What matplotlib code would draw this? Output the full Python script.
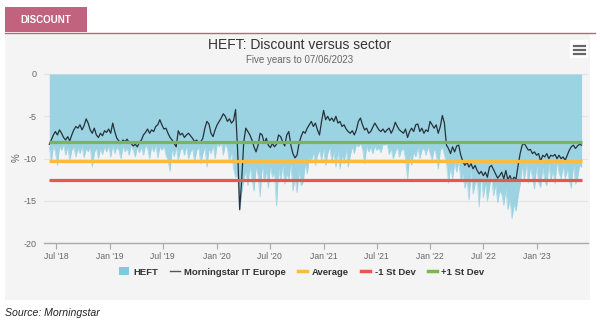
import matplotlib
matplotlib.use('Agg')
import matplotlib.pyplot as plt
from matplotlib.patches import Rectangle, Patch
from matplotlib.lines import Line2D
import pandas as pd

# ---------------- data ----------------
start_date = '2018-06-08'
n_weeks = 261

sector = [
    -8.3, -7.8, -7.2, -6.8, -7.2, -6.6, -7.0, -7.5, -7.8, -7.4,
    -7.9, -7.2, -6.6, -6.2, -6.4, -6.0, -6.6, -6.1, -5.3, -5.8,
    -6.6, -7.0, -6.4, -7.2, -7.5, -7.0, -7.3, -6.7, -6.9, -6.5,
    -7.0, -5.8, -6.8, -7.6, -7.9, -8.2, -7.8, -8.0, -7.7, -8.1,
    -8.2, -8.5, -8.3, -8.6, -8.1, -7.8, -7.2, -6.9, -6.5, -7.0,
    -6.6, -6.8, -6.2, -6.0, -5.4, -6.0, -6.5, -6.4, -7.0, -7.5,
    -7.8, -8.2, -8.6, -6.7, -7.2, -7.0, -7.5, -7.2, -7.0, -7.3,
    -7.6, -8.0, -7.8, -8.2, -8.0, -7.6, -6.4, -5.6, -5.9, -7.0,
    -7.4, -6.6, -6.0, -5.6, -5.2, -4.7, -5.0, -5.6, -5.3, -5.8,
    -5.5, -4.2, -9.0, -16.0, -12.5, -8.0, -6.4, -6.8, -7.2, -7.8,
    -8.6, -9.2, -8.4, -7.0, -7.2, -8.2, -7.6, -8.4, -8.7, -8.2,
    -8.6, -8.3, -7.2, -7.4, -8.0, -8.5, -7.2, -6.8, -8.4, -9.4,
    -9.9, -9.6, -8.2, -7.4, -6.8, -7.0, -6.4, -6.0, -5.6, -6.2,
    -5.8, -6.6, -7.2, -5.6, -4.3, -5.4, -5.0, -5.5, -5.2, -5.6,
    -5.0, -5.8, -5.6, -6.2, -6.0, -6.5, -6.8, -7.0, -6.7, -7.2,
    -6.6, -5.6, -5.2, -6.0, -6.6, -6.4, -7.0, -6.8, -6.3, -5.8,
    -6.2, -6.6, -6.8, -6.5, -6.9, -6.6, -6.4, -7.0, -6.5, -5.7,
    -6.2, -6.6, -6.8, -7.0, -6.5, -7.5, -6.8, -6.4, -6.8, -6.0,
    -5.9, -6.8, -6.4, -7.0, -6.6, -6.8, -5.6, -6.0, -6.4, -6.0,
    -7.0, -6.2, -4.9, -5.8, -8.4, -8.8, -9.4, -8.6, -9.2, -8.5,
    -8.4, -9.6, -10.3, -10.8, -10.4, -11.0, -10.6, -11.2, -10.8, -11.4,
    -11.8, -11.5, -12.0, -11.6, -12.2, -11.0, -10.8, -11.3, -11.8, -12.3,
    -12.0, -11.6, -12.4, -11.4, -12.5, -12.0, -12.6, -12.2, -12.4, -10.8,
    -9.4, -8.4, -8.2, -8.6, -9.0, -8.9, -9.4, -9.2, -9.6, -9.4,
    -10.3, -9.6, -9.8, -9.4, -10.0, -9.6, -9.7, -9.5, -10.0, -9.6,
    -10.0, -9.8, -10.2, -9.6, -9.0, -8.6, -8.4, -8.8, -8.5, -8.3,
    -8.4,
]

heft = [
    -8.6, -10.4, -8.4, -9.2, -10.8, -8.5, -9.0, -8.3, -9.6, -8.6, -10.2,
    -9.0, -8.6, -9.8, -8.7, -9.4, -8.5, -9.9, -8.8, -9.2, -8.6,
    -11.0, -9.3, -8.7, -10.0, -8.8, -9.5, -8.6, -9.2, -8.5, -9.8,
    -8.4, -9.4, -8.6, -9.0, -10.0, -8.5, -9.2, -8.7, -9.6, -8.4, -9.0, -9.8, -8.6, -9.3,
    -8.6, -9.6, -8.4, -8.8, -10.0, -8.5, -9.2, -8.4, -9.9, -8.6, -9.0, -8.5, -9.6, -10.2, -11.5,
    -8.8, -9.8, -8.6, -10.2, -9.0, -8.7, -9.6, -8.5, -10.0, -9.2,
    -8.8, -10.4, -9.0, -8.7, -10.6, -9.4, -8.6, -11.0, -8.8,
    -9.4, -8.3, -10.0, -8.2, -8.6, -8.0, -9.6, -8.2, -8.8, -10.4, -9.2, -11.2, -12.2,
    -12.0, -16.2, -14.0, -12.5,
    -11.5, -13.2, -10.8, -12.4, -13.8, -11.0, -12.0, -14.5, -10.6, -12.8,
    -11.4, -13.5, -10.9, -12.2, -11.6, -15.6, -11.2, -12.6, -10.8, -13.0,
    -11.8, -12.4, -10.6, -13.8, -12.2, -14.0, -11.5, -13.2,
    -12.8, -10.6, -11.8, -9.8, -10.4, -9.2, -10.8, -9.6,
    -9.0, -10.2, -8.8, -10.8, -9.4, -8.6, -10.4, -9.2, -11.0, -9.0, -11.2, -9.6, -10.6, -8.8, -11.0,
    -9.6, -8.6, -9.4, -8.3, -8.6, -8.2, -8.8, -10.6, -8.5,
    -9.2, -8.6, -9.4, -8.5, -9.0, -8.7, -9.3, -8.3, -8.4, -8.2,
    -9.5, -8.8, -10.0, -9.2, -8.6, -9.8, -9.0, -8.8, -10.0, -12.4, -9.6,
    -10.8, -9.2, -9.8, -8.6, -10.0, -9.0, -8.7, -9.6, -8.5, -9.4, -10.2, -8.8, -9.5, -11.2,
    -9.0, -8.6, -9.6,
    -10.5, -12.9, -11.0, -12.4, -10.4, -11.6, -10.2, -12.7,
    -11.8, -13.5, -12.4, -14.9, -11.4, -14.2, -13.0,
    -12.5, -15.7, -11.6, -14.6,
    -12.8, -15.0, -13.4, -11.8, -14.4, -13.0, -15.2, -13.8,
    -14.2, -15.5, -13.6, -16.0, -14.8, -17.1, -15.4, -16.2, -14.4, -13.0,
    -10.8, -12.6, -10.6, -12.9, -11.0, -12.2, -13.6, -10.8, -12.8, -13.4,
    -11.0, -12.6, -13.2, -10.6, -12.6, -11.4, -13.0, -10.4, -11.7, -12.4,
    -10.8, -12.4, -11.2, -12.6, -13.5, -10.6, -13.0, -12.4, -10.8, -11.0,
]

average = -10.25
minus_1sd = -12.47
plus_1sd = -8.0

tick_dates = ['2018-07-01', '2019-01-01', '2019-07-01', '2020-01-01', '2020-07-01',
              '2021-01-01', '2021-07-01', '2022-01-01', '2022-07-01', '2023-01-01']
tick_labels = ["Jul '18", "Jan '19", "Jul '19", "Jan '20", "Jul '20",
               "Jan '21", "Jul '21", "Jan '22", "Jul '22", "Jan '23"]
y_ticks = [0, -5, -10, -15, -20]

legend_labels = ['HEFT', 'Morningstar IT Europe', 'Average', '-1 St Dev', '+1 St Dev']

# ---------------- style ----------------
NARROW = ['Liberation Sans Narrow', 'Liberation Sans', 'DejaVu Sans']
SANS = ['Liberation Sans', 'DejaVu Sans']
PINK = '#c1637e'
PANEL = '#f4f4f4'
BLUE = '#9cd3e3'
LINE = '#263238'
ORANGE = '#f8bd3c'
RED = '#e5584b'
GREEN = '#7ab752'

W, H = 600, 325
def fx(px):
    return px / W
def fy(py):
    return 1 - py / H

fig = plt.figure(figsize=(6, 3.25), dpi=100)
fig.patch.set_facecolor('white')

# panel background
fig.patches.append(Rectangle((fx(5), fy(300)), fx(590) - fx(5), fy(33) - fy(300),
                             transform=fig.transFigure, facecolor=PANEL, edgecolor='none', zorder=-2))
# tab
fig.patches.append(Rectangle((fx(5), fy(32)), fx(87) - fx(5), fy(7) - fy(32),
                             transform=fig.transFigure, facecolor=PINK, edgecolor='none', zorder=-1))
fig.add_artist(Line2D([fx(5), fx(595)], [fy(32.5), fy(32.5)], transform=fig.transFigure,
                      color=PINK, lw=1.0))
fig.text(fx(46), fy(20), 'DISCOUNT', color='white', fontsize=7.0, fontweight='bold',
         family=NARROW, ha='center', va='center')

# titles
fig.text(fx(300), fy(45), 'HEFT: Discount versus sector', fontsize=10, color='#333333',
         family=SANS, ha='center', va='center')
fig.text(fx(300), fy(60), 'Five years to 07/06/2023', fontsize=7, color='#666666',
         family=SANS, ha='center', va='center')

# hamburger menu
fig.patches.append(Rectangle((fx(570), fy(58)), fx(588) - fx(570), fy(40) - fy(58),
                             transform=fig.transFigure, facecolor='white', edgecolor='none', zorder=-1))
for yy in (45.5, 49.5, 53.5):
    fig.add_artist(Line2D([fx(574), fx(585)], [fy(yy), fy(yy)], transform=fig.transFigure,
                          color='#666666', lw=1.6, zorder=3))

# source
fig.text(fx(5), fy(313), 'Source: Morningstar', fontsize=7.6, style='italic', color='#222222',
         family=NARROW, ha='left', va='center')

# ---------------- axes ----------------
ax = fig.add_axes([fx(44), fy(243.3), fx(588) - fx(44), fy(74) - fy(243.3)])
ax.set_zorder(2)
ax.set_facecolor(PANEL)

dates = pd.date_range(start_date, periods=n_weeks, freq='7D')

ax.fill_between(dates, 0, heft, color=BLUE, lw=0, zorder=2)
ax.plot(dates, heft, color=BLUE, lw=0.6, alpha=0.8, zorder=2)
ax.plot(dates, sector, color=LINE, lw=0.9, zorder=3)
ends = [dates[0], dates[-1]]
ax.plot(ends, [average, average], color=ORANGE, lw=2.3, zorder=4, solid_capstyle='butt')
ax.plot(ends, [minus_1sd, minus_1sd], color=RED, lw=2.3, zorder=4, solid_capstyle='butt')
ax.plot(ends, [plus_1sd, plus_1sd], color=GREEN, lw=2.3, zorder=5, solid_capstyle='butt')

ax.set_ylim(-20, 0)
ax.set_xlim(dates[0] - pd.Timedelta(days=18), dates[-1] + pd.Timedelta(days=22))

ax.set_yticks(y_ticks)
ax.set_yticklabels([str(v) for v in y_ticks])
ax.set_xticks(pd.to_datetime(tick_dates))
ax.set_xticklabels(tick_labels)

ax.grid(axis='y', color='#e3e3e3', lw=0.8, zorder=0)
ax.set_axisbelow(True)
for s in ('top', 'right', 'left'):
    ax.spines[s].set_visible(False)
ax.spines['bottom'].set_color('#aaaaaa')
ax.spines['bottom'].set_linewidth(1.0)

ax.tick_params(axis='y', length=0, pad=5, labelsize=6.5, labelcolor='#666666')
ax.tick_params(axis='x', length=4, width=0.8, color='#aaaaaa', pad=2, labelsize=6.2,
               labelcolor='#666666')
for lab in ax.get_xticklabels() + ax.get_yticklabels():
    lab.set_family(NARROW)

fig.text(fx(17), fy(158), '%', rotation=90, fontsize=7, color='#666666', family=SANS,
         ha='center', va='center')

# ---------------- legend ----------------
handles = [
    Patch(facecolor='#7ecbe0', edgecolor='none'),
    Line2D([], [], color='#555555', lw=1.0),
    Line2D([], [], color=ORANGE, lw=2.5),
    Line2D([], [], color=RED, lw=2.5),
    Line2D([], [], color=GREEN, lw=2.5),
]
leg = fig.legend(handles, legend_labels, loc='center', bbox_to_anchor=(fx(302), fy(272)),
                 ncol=5, frameon=False, handlelength=1.0, handleheight=0.9, handletextpad=0.45,
                 columnspacing=1.3, prop={'family': NARROW, 'size': 6.8, 'weight': 'bold'})
for t in leg.get_texts():
    t.set_color('#333333')

fig.savefig('out.png', dpi=100, facecolor='white')
